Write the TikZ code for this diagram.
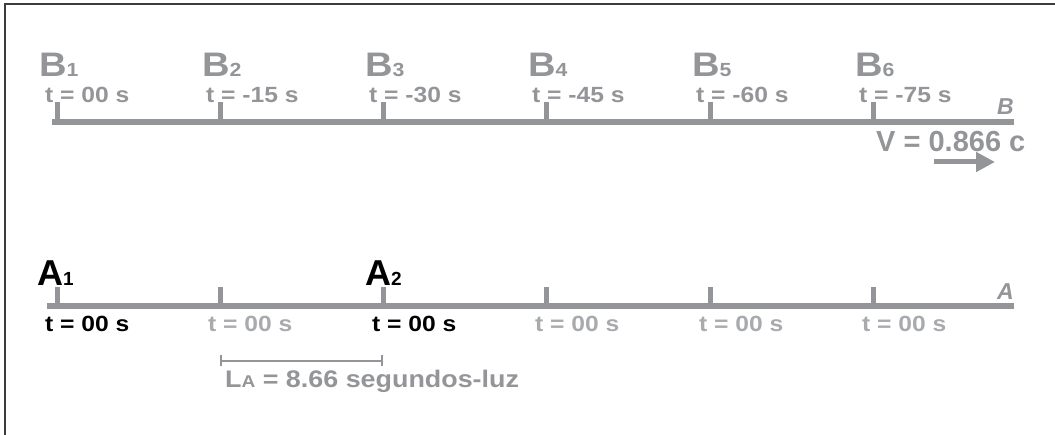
\documentclass[tikz,border=0pt]{standalone}
\usepackage{fontspec}
\setmainfont[FakeStretch=1.12]{Liberation Sans}
\newfontfamily\plainsf{Liberation Sans}
\usepackage{xcolor}
\usepackage{tikz}
\usetikzlibrary{arrows.meta, positioning}

\definecolor{axisgray}{RGB}{147,149,152}
\definecolor{palegray}{RGB}{168,170,173}
\definecolor{framegray}{RGB}{60,60,60}
\newcommand{\idx}[1]{{\fontsize{19}{19}\selectfont #1}}

\begin{document}
\begin{tikzpicture}[x=1pt, y=-1pt,
        axis/.style={draw=axisgray, line width=6pt},
        tickmark/.style={draw=axisgray, line width=5pt},
        frame/.style={draw=framegray, line width=2pt},
        txt/.style={inner sep=0pt, anchor=base west, font=\bfseries},
        blabel/.style={txt, text=axisgray, font=\bfseries\fontsize{34}{34}\selectfont},
        alabel/.style={txt, text=black, font=\plainsf\bfseries\fontsize{36}{36}\selectfont},
        tlabel/.style={txt, text=axisgray, font=\bfseries\fontsize{22}{22}\selectfont},
        tpale/.style={tlabel, text=palegray},
        tdark/.style={tlabel, text=black},
        axname/.style={inner sep=0pt, anchor=base east, text=axisgray, font=\plainsf\bfseries\itshape\fontsize{23}{23}\selectfont},
        arrow/.style={-{Triangle[length=19pt, width=19pt]}, draw=axisgray, fill=axisgray, line width=5pt},
        measure/.style={|-|, draw=axisgray, line width=2pt}
    ]
    
    \useasboundingbox (0,0) rectangle (1055,435);
    \draw [frame] (5,435) -- (5,4.5) -- (1055,4.5);
    
    % frame B (moving)
    \coordinate (b0) at (52,122);
    \coordinate (bend) at (1014,122);
    \coordinate (b1) at (57,122);
    \coordinate (b2) at (220,122);
    \coordinate (b3) at (383,122);
    \coordinate (b4) at (546,122);
    \coordinate (b5) at (710,122);
    \coordinate (b6) at (873,122);
    \draw [axis] (b0) -- (bend);
    \draw [tickmark] (b1) -- ++(0,-20);
    \draw [tickmark] (b2) -- ++(0,-20);
    \draw [tickmark] (b3) -- ++(0,-20);
    \draw [tickmark] (b4) -- ++(0,-20);
    \draw [tickmark] (b5) -- ++(0,-20);
    \draw [tickmark] (b6) -- ++(0,-20);
    
    \node (B1) at (39,77) [blabel] {B\idx{1}};
    \node (B2) at (202,77) [blabel] {B\idx{2}};
    \node (B3) at (365,77) [blabel] {B\idx{3}};
    \node (B4) at (528,77) [blabel] {B\idx{4}};
    \node (B5) at (692,77) [blabel] {B\idx{5}};
    \node (B6) at (855,77) [blabel] {B\idx{6}};
    
    \node (tB1) at (45,103) [tlabel] {t = 00 s};
    \node (tB2) at (206,103) [tlabel] {t = -15 s};
    \node (tB3) at (369,103) [tlabel] {t = -30 s};
    \node (tB4) at (532,103) [tlabel] {t = -45 s};
    \node (tB5) at (696,103) [tlabel] {t = -60 s};
    \node (tB6) at (859,103) [tlabel] {t = -75 s};
    
    \node (nameB) at (1014,115) [axname] {B};
    \node (speed) at (876,152) [txt, text=axisgray, font=\plainsf\bfseries\fontsize{29}{29}\selectfont] {V = 0.866 c};
    \coordinate (vtail) at (934,162);
    \coordinate (vhead) at (995,162);
    \draw [arrow] (vtail) -- (vhead);
    
    % frame A (at rest)
    \coordinate (a0) at (47,306.5);
    \coordinate (aend) at (1014,306.5);
    \coordinate (a1) at (57,306.5);
    \coordinate (a2) at (220,306.5);
    \coordinate (a3) at (383,306.5);
    \coordinate (a4) at (546,306.5);
    \coordinate (a5) at (710,306.5);
    \coordinate (a6) at (873,306.5);
    \draw [axis] (a0) -- (aend);
    \draw [tickmark] (a1) -- ++(0,-19);
    \draw [tickmark] (a2) -- ++(0,-19);
    \draw [tickmark] (a3) -- ++(0,-19);
    \draw [tickmark] (a4) -- ++(0,-19);
    \draw [tickmark] (a5) -- ++(0,-19);
    \draw [tickmark] (a6) -- ++(0,-19);
    
    \node (A1) at (37,286) [alabel] {A\idx{1}};
    \node (A2) at (365,286) [alabel] {A\idx{2}};
    
    \node (tA1) at (45,332) [tdark] {t = 00 s};
    \node (tA2) at (208,332) [tpale] {t = 00 s};
    \node (tA3) at (372,332) [tdark] {t = 00 s};
    \node (tA4) at (535,332) [tpale] {t = 00 s};
    \node (tA5) at (699,332) [tpale] {t = 00 s};
    \node (tA6) at (862,332) [tpale] {t = 00 s};
    
    \node (nameA) at (1014,300) [axname] {A};
    
    \coordinate (lstart) at (220,361);
    \coordinate (lstop) at (383,361);
    \draw [measure] (lstart) -- (lstop);
    \node (length) at (225,388) [txt, text=axisgray, font=\bfseries\fontsize{24}{24}\selectfont] {L{\fontsize{17}{17}\selectfont A} = 8.66 segundos-luz};
    
\end{tikzpicture}
\end{document}
